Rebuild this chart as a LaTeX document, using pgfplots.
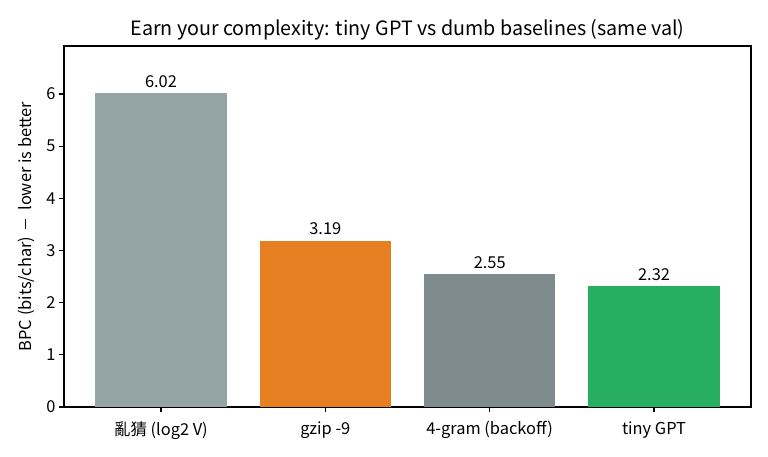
\documentclass[border=0pt]{standalone}
\usepackage{pgfplots}
\pgfplotsset{compat=1.18}
\usepackage{fontspec}
\setmainfont{Noto Sans CJK TC}
\definecolor{c1}{HTML}{95A5A6}
\definecolor{c2}{HTML}{E67E22}
\definecolor{c3}{HTML}{7F8C8D}
\definecolor{c4}{HTML}{27AE60}
\begin{document}
\begin{tikzpicture}[x=1pt,y=1pt]
\useasboundingbox (0,0) rectangle (768,456);
\begin{axis}[
  at={(64pt,49pt)}, anchor=south west,
  scale only axis, width=687pt, height=361pt,
  xmin=-0.59, xmax=3.59, ymin=0, ymax=6.921,
  xtick={0,1,2,3},
  xticklabels={亂猜 (log2 V), gzip -9, 4-gram (backoff), tiny GPT},
  ytick={0,1,2,3,4,5,6},
  tick align=outside, tick pos=left,
  major tick length=4.9pt,
  every tick/.style={black, line width=1.1pt},
  axis line style={line width=1.1pt},
  /pgf/number format/assume math mode=true,
  tick label style={font=\fontsize{16.4}{18}\selectfont},
  xticklabel style={yshift=-6pt},
  ylabel={BPC (bits/char)\hspace{0.5em}\rule[0.32em]{0.6em}{0.08em}\hspace{0.5em}lower is better},
  ylabel style={font=\fontsize{16.4}{18}\selectfont, yshift=5pt},
  title={Earn your complexity: tiny GPT vs dumb baselines (same val)},
  title style={font=\fontsize{19.7}{22}\selectfont, yshift=-4pt},
  ybar, bar shift=0pt,
  nodes near coords={\pgfmathprintnumber[fixed, fixed zerofill, precision=2, assume math mode=true]{\pgfplotspointmeta}},
  nodes near coords style={font=\fontsize{16.4}{18}\selectfont, yshift=2pt},
]
\addplot[fill=c1, draw=none, bar width=131.5pt] coordinates {(0,6.02)};
\addplot[fill=c2, draw=none, bar width=131.5pt] coordinates {(1,3.19)};
\addplot[fill=c3, draw=none, bar width=131.5pt] coordinates {(2,2.55)};
\addplot[fill=c4, draw=none, bar width=131.5pt] coordinates {(3,2.32)};
\end{axis}
\end{tikzpicture}
\end{document}
